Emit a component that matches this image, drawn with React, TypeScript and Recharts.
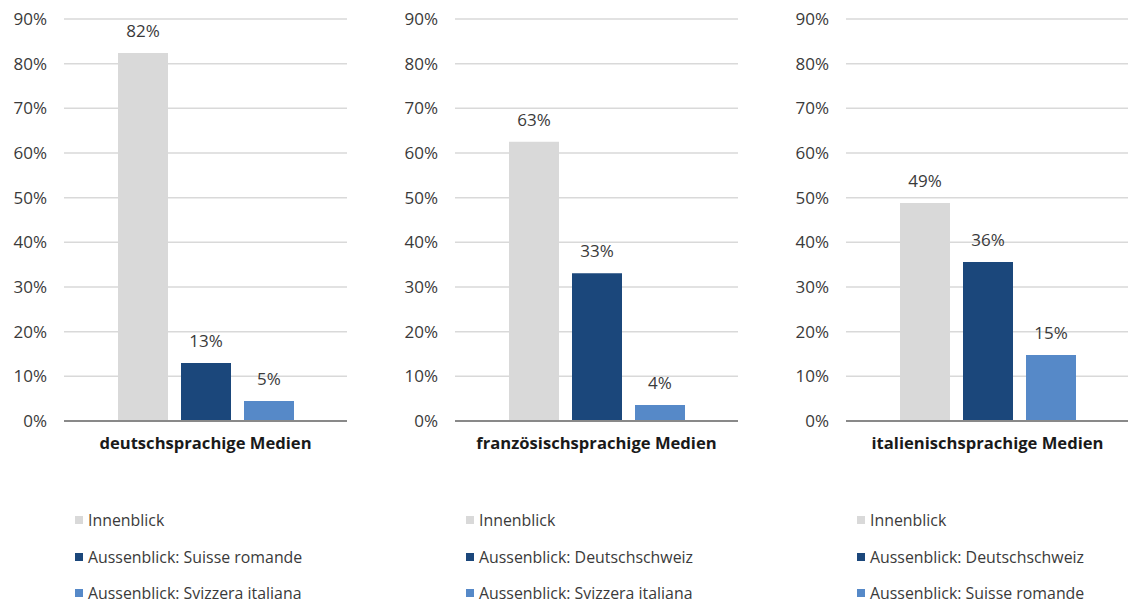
import React from 'react';
import { BarChart, Bar, XAxis, YAxis, CartesianGrid, LabelList } from 'recharts';

const panelTitles = ['deutschsprachige Medien', 'französischsprachige Medien', 'italienischsprachige Medien'];
const seriesNamesDe = ['Innenblick', 'Aussenblick: Suisse romande', 'Aussenblick: Svizzera italiana'];
const seriesNamesFr = ['Innenblick', 'Aussenblick: Deutschschweiz', 'Aussenblick: Svizzera italiana'];
const seriesNamesIt = ['Innenblick', 'Aussenblick: Deutschschweiz', 'Aussenblick: Suisse romande'];
const innenblick = [82.4, 62.5, 48.8];
const aussenblickA = [13.0, 33.1, 35.6];
const aussenblickB = [4.5, 3.6, 14.8];
const yTicks = [0, 10, 20, 30, 40, 50, 60, 70, 80, 90];
const seriesColors = ['#d9d9d9', '#1b477b', '#5689c8'];

const FONT = '"Open Sans", "Noto Sans", sans-serif';
const TEXT = '#3a3a3a';

const seriesNamesByPanel = [seriesNamesDe, seriesNamesFr, seriesNamesIt];

const PANEL_W = 391;
const H = 603;
const CHART_H = 470;

function LegendBox({ names }: { names: string[] }) {
  return (
    <div style={{ position: 'absolute', top: 491, left: 0, height: 112, width: PANEL_W, boxSizing: 'border-box', paddingTop: 19, paddingLeft: 75, fontFamily: FONT }}>
      {names.map((n, i) => (
        <div key={n} style={{ height: 20, marginBottom: 16.5, display: 'flex', alignItems: 'center', fontSize: 15.9, color: TEXT, whiteSpace: 'nowrap' }}>
          <span style={{ display: 'inline-block', width: 8, height: 8, background: seriesColors[i], marginRight: 5 }} />
          {n}
        </div>
      ))}
    </div>
  );
}

function Panel({ idx }: { idx: number }) {
  const names = seriesNamesByPanel[idx];
  const data = [{ name: panelTitles[idx], s0: innenblick[idx], s1: aussenblickA[idx], s2: aussenblickB[idx] }];
  const fmt = (v: any) => `${Math.round(Number(v))}%`;
  return (
    <BarChart width={PANEL_W} height={CHART_H} data={data} margin={{ top: 19, right: 44, left: 0, bottom: 0 }} barSize={50} barGap={13}>
      <CartesianGrid vertical={false} stroke="#d9d9d9" strokeWidth={1.5} />
      <XAxis dataKey="name" axisLine={{ stroke: '#898989', strokeWidth: 2 }} tickLine={false} height={CHART_H - 19 - 402} tickSize={6} tickMargin={10}
        tick={{ fontFamily: FONT, fontSize: 16.6, fontWeight: 700, fill: '#1a1a1a' }} />
      <YAxis domain={[0, 90]} ticks={yTicks} width={64} axisLine={false} tickLine={false} tickSize={8} tickMargin={9}
        tickFormatter={(v: number) => `${v}%`} tick={{ fontFamily: FONT, fontSize: 17, fill: TEXT }} />
      {['s0', 's1', 's2'].map((k, i) => (
        <Bar key={k} dataKey={k} name={names[i]} fill={seriesColors[i]} isAnimationActive={false}>
          <LabelList dataKey={k} position="top" offset={16} formatter={fmt}
            style={{ fontFamily: FONT, fontSize: 17, fill: TEXT }} />
        </Bar>
      ))}
    </BarChart>
  );
}

export default function App() {
  return (
    <div style={{ position: 'absolute', left: 0, top: 0, width: 1128, height: H, overflow: 'hidden', background: '#fff' }}>
      {[0, 1, 2].map((i) => (
        <div key={i} style={{ position: 'absolute', left: i * PANEL_W, top: 0, width: PANEL_W, height: H }}>
          <Panel idx={i} />
          <LegendBox names={seriesNamesByPanel[i]} />
        </div>
      ))}
    </div>
  );
}
